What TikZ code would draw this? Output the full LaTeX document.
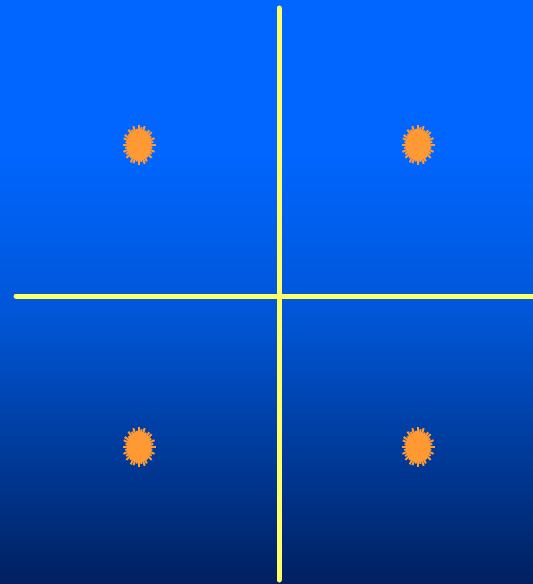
\documentclass[tikz,border=0pt]{standalone}
\pgfdeclareverticalshading{bgshade}{100bp}{rgb(0bp)=(0,0.125,0.376); rgb(25bp)=(0,0.125,0.376); rgb(47.6bp)=(0,0.333,0.835); rgb(62bp)=(0,0.4,1); rgb(100bp)=(0,0.4,1)}
\newcommand{\starburst}[2]{%
  \begin{scope}[shift={(#1,#2)}]
    \fill[burst] (0,0) ellipse [x radius=12.5, y radius=15.5];
    \foreach \a/\r in {0/1.0,10/0.82,20/1.0,30/0.88,40/1.0,50/0.8,60/0.95,70/1.0,80/0.86,90/1.0,100/0.84,110/0.97,120/1.0,130/0.83,140/1.0,150/0.9,160/1.0,170/0.85,180/1.0,190/0.83,200/0.98,210/1.0,220/0.84,230/1.0,240/0.88,250/1.0,260/0.82,270/1.0,280/0.9,290/1.0,300/0.83,310/0.96,320/1.0,330/0.85,340/1.0,350/0.88}{
      \draw[spike] (0,0) -- ({16.5*\r*cos(\a)},{20*\r*sin(\a)});
    }
  \end{scope}}
\begin{document}
\begin{tikzpicture}[x=1bp,y=-1bp]
\definecolor{axisyellow}{RGB}{255,255,102}
\definecolor{burst}{RGB}{255,153,51}
\tikzset{
  axisline/.style={draw=axisyellow,line width=5bp,line cap=round},
  spike/.style={draw=burst,line width=2bp},
}
\useasboundingbox (0,0) rectangle (533,584);
\shade[shading=bgshade] (0,0) rectangle (533,584);
\draw[axisline] (279,8) -- (279,580);
\draw[axisline] (16,296) -- (540,296);
\starburst{139}{145}
\starburst{418}{145}
\starburst{139}{447}
\starburst{418}{447}
\end{tikzpicture}
\end{document}
